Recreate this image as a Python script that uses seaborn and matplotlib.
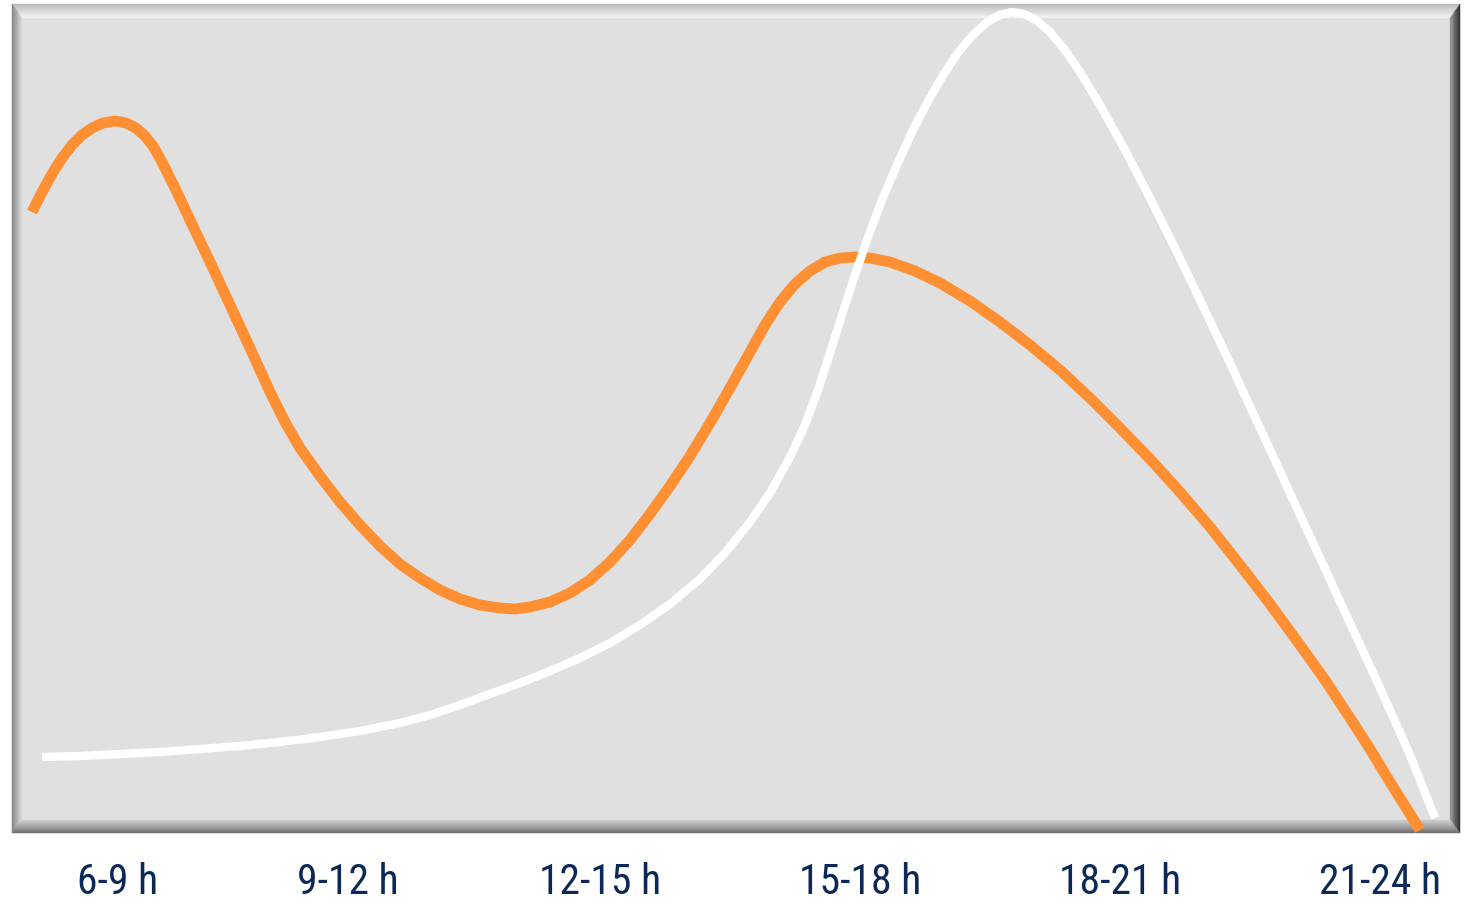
import numpy as np
import seaborn as sns
import matplotlib.pyplot as plt
from matplotlib import font_manager
from matplotlib.colors import to_rgb
from matplotlib.patches import Polygon
from matplotlib.transforms import IdentityTransform

# time slots on the x axis (x units = position along the plot, 0-1448)
slot_labels = ["6-9 h", "9-12 h", "12-15 h", "15-18 h", "18-21 h", "21-24 h"]
slot_pos = [106, 336, 588, 848, 1108, 1368]

# orange curve (y units 0-829)
orange_x = [20, 30, 40, 50, 60, 70, 80, 91, 103, 114, 124, 133, 141, 150, 163,
            178, 198, 218, 238, 258, 273, 288, 308, 328, 348, 368, 388, 408,
            428, 448, 468, 488, 503, 518, 538, 558, 578, 598, 618, 638, 658,
            678, 698, 718, 738, 753, 768, 783, 798, 813, 828, 843, 858, 878,
            903, 928, 958, 988, 1018, 1048, 1078, 1108, 1138, 1168, 1198,
            1228, 1258, 1288, 1313, 1338, 1358, 1378, 1393, 1408]
orange_y = [621, 641, 659, 675, 688, 698, 705, 710, 712, 710, 705, 697, 687,
            671, 645, 613, 571, 528, 485, 441, 411, 385, 357, 331, 308, 287,
            269, 255, 243, 234, 228, 225, 224, 226, 231, 240, 253, 271, 293,
            319, 347, 377, 410, 445, 481, 508, 531, 549, 562, 571, 575, 576,
            575, 571, 562, 550, 532, 511, 488, 463, 435, 405, 374, 341, 306,
            268, 229, 188, 153, 115, 84, 51, 27, 3]

# white curve
white_x = [30, 68, 108, 148, 188, 228, 268, 308, 348, 388, 418, 448, 478, 508,
           538, 568, 598, 628, 658, 688, 713, 738, 758, 778, 793, 806, 818,
           830, 843, 856, 870, 885, 900, 915, 930, 945, 960, 975, 988, 1000,
           1012, 1024, 1038, 1053, 1068, 1088, 1113, 1138, 1163, 1188, 1218,
           1248, 1278, 1308, 1338, 1368, 1398, 1423]
white_y = [76, 77, 79, 81, 84, 87, 91, 96, 102, 110, 118, 128, 139, 150, 162,
           175, 190, 208, 229, 254, 280, 311, 340, 376, 408, 443, 480, 518,
           558, 596, 633, 668, 701, 730, 756, 779, 797, 811, 818, 821, 819,
           813, 801, 783, 761, 728, 683, 635, 585, 533, 470, 405, 340, 275,
           210, 145, 78, 15]

W, H = 1467, 902
fig = plt.figure(figsize=(W / 100, H / 100), dpi=100, facecolor="white")

# frame in pixels (from top-left)
fx0, fx1, fy0, fy1 = 12, 1460, 4, 833
ax = fig.add_axes([fx0 / W, 1 - fy1 / H, (fx1 - fx0) / W, (fy1 - fy0) / H])
ax.set_facecolor("#e0e0e0")
ax.set_xlim(0, fx1 - fx0)
ax.set_ylim(0, fy1 - fy0)


def mix(c0, c1, t):
    c0, c1 = np.array(to_rgb(c0)), np.array(to_rgb(c1))
    return tuple(c0 + (c1 - c0) * t)


def bevel(ax, widths, colors, steps=12):
    ''' Draw a beveled frame around the plot area (pixel coords) '''
    top, left, right, bottom = widths
    for i in range(steps):
        t0, t1 = i / steps, (i + 1) / steps
        ox0, ox1 = fx0 + left * t0, fx1 - right * t0
        oy0, oy1 = H - fy0 - top * t0, H - fy1 + bottom * t0
        ix0, ix1 = fx0 + left * t1, fx1 - right * t1
        iy0, iy1 = H - fy0 - top * t1, H - fy1 + bottom * t1
        sides = {
            "top": [(ox0, oy0), (ox1, oy0), (ix1, iy0), (ix0, iy0)],
            "left": [(ox0, oy0), (ix0, iy0), (ix0, iy1), (ox0, oy1)],
            "right": [(ox1, oy0), (ox1, oy1), (ix1, iy1), (ix1, iy0)],
            "bottom": [(ox0, oy1), (ix0, iy1), (ix1, iy1), (ox1, oy1)],
        }
        for name, pts in sides.items():
            c = mix(colors[name][0], colors[name][1], (t0 + t1) / 2)
            ax.add_patch(Polygon(pts, closed=True, facecolor=c, edgecolor=c,
                                 linewidth=0.3, transform=IdentityTransform(),
                                 clip_on=False, zorder=1))


bevel(ax, (14, 10, 10, 13), {
    "top": ("#b8b8b8", "#f4f4f4"),
    "left": ("#7c7c7c", "#dcdcdc"),
    "right": ("#202020", "#9a9a9a"),
    "bottom": ("#6a6a6a", "#cfcfcf"),
})

sns.lineplot(x=orange_x, y=orange_y, color="#ff8f33", linewidth=7.8,
             sort=False, ax=ax, zorder=3)
sns.lineplot(x=white_x, y=white_y, color="white", linewidth=6.0,
             sort=False, ax=ax, zorder=4)
for ln in ax.get_lines():
    ln.set_solid_capstyle("butt")
    ln.set_solid_joinstyle("round")
    ln.set_clip_on(False)

# pick a narrow font for the tick labels
names = {f.name for f in font_manager.fontManager.ttflist}
font = dict(fontfamily="DejaVu Sans", fontstretch="condensed",
            fontweight="bold", fontsize=26)
for cand in ["Roboto Condensed", "Liberation Sans Narrow"]:
    if cand in names:
        font = dict(fontfamily=cand, fontweight="normal", fontsize=30)
        break

for s in ax.spines.values():
    s.set_visible(False)
ax.set_yticks([])
ax.set_xticks(slot_pos)
ax.set_xticklabels(slot_labels, color="#0c2857", **font)
ax.tick_params(axis="x", length=0, pad=21)
ax.set_xlabel("")
ax.set_ylabel("")

fig.savefig("out.png", dpi=100, facecolor="white")
